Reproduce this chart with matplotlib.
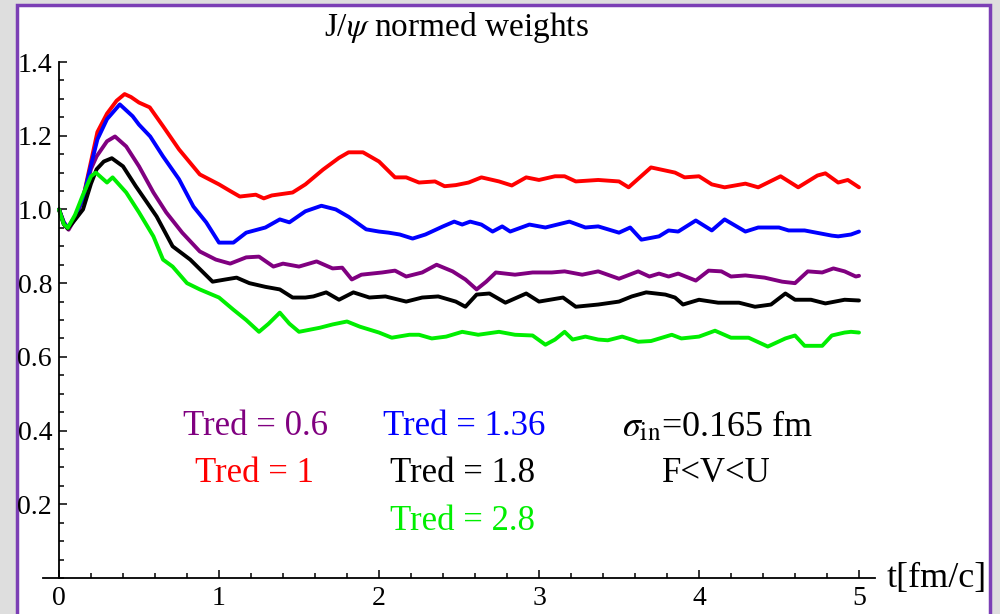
import matplotlib
matplotlib.use("Agg")
import matplotlib.pyplot as plt
from matplotlib.patches import Rectangle
from matplotlib.ticker import MultipleLocator, FixedLocator

plt.rcParams['font.family'] = ['Liberation Serif', 'DejaVu Serif']
plt.rcParams['mathtext.fontset'] = 'stix'

# values (t in fm/c, normed weight)
t_red = [0, 0.03, 0.055, 0.1, 0.15, 0.2, 0.24, 0.3, 0.36, 0.41, 0.45, 0.5, 0.567, 0.65, 0.75, 0.88,
         1.0, 1.07, 1.13, 1.23, 1.28, 1.33, 1.46, 1.54, 1.65, 1.75, 1.81, 1.9, 2.0, 2.1, 2.17, 2.25,
         2.35, 2.41, 2.48, 2.56, 2.64, 2.75, 2.83, 2.92, 3.0, 3.1, 3.16, 3.23, 3.37, 3.5, 3.56, 3.7,
         3.85, 3.91, 4.0, 4.08, 4.16, 4.29, 4.37, 4.51, 4.62, 4.74, 4.79, 4.87, 4.93, 5.0]
w_red = [1.0, 0.965, 0.95, 0.98, 1.03, 1.13, 1.21, 1.26, 1.295, 1.313, 1.305, 1.29, 1.277, 1.226, 1.163, 1.095,
         1.068, 1.05, 1.035, 1.04, 1.03, 1.038, 1.046, 1.068, 1.108, 1.14, 1.155, 1.155, 1.13, 1.087, 1.087, 1.073,
         1.076, 1.063, 1.066, 1.073, 1.087, 1.076, 1.065, 1.087, 1.08, 1.09, 1.09, 1.076, 1.08, 1.076, 1.06, 1.114,
         1.10, 1.087, 1.09, 1.068, 1.06, 1.07, 1.06, 1.09, 1.06, 1.092, 1.098, 1.073, 1.08, 1.06]

t_blue = [0, 0.03, 0.055, 0.1, 0.15, 0.2, 0.24, 0.3, 0.38, 0.46, 0.5, 0.57, 0.65, 0.75, 0.84, 0.92,
          1.0, 1.09, 1.17, 1.29, 1.38, 1.44, 1.54, 1.64, 1.73, 1.81, 1.92, 2.0, 2.06, 2.13, 2.21, 2.29,
          2.40, 2.47, 2.52, 2.57, 2.64, 2.71, 2.77, 2.82, 2.94, 3.04, 3.19, 3.29, 3.37, 3.50, 3.57, 3.64,
          3.75, 3.81, 3.87, 3.98, 4.08, 4.16, 4.29, 4.37, 4.50, 4.56, 4.66, 4.83, 4.87, 4.95, 5.0]
w_blue = [1.0, 0.965, 0.95, 0.98, 1.03, 1.12, 1.19, 1.245, 1.285, 1.253, 1.23, 1.198, 1.144, 1.082, 1.008, 0.965,
          0.91, 0.91, 0.937, 0.951, 0.973, 0.965, 0.995, 1.01, 1.0, 0.98, 0.946, 0.94, 0.937, 0.932, 0.921, 0.932,
          0.954, 0.967, 0.959, 0.967, 0.959, 0.94, 0.954, 0.94, 0.959, 0.951, 0.967, 0.951, 0.954, 0.937, 0.951, 0.918,
          0.927, 0.943, 0.94, 0.97, 0.943, 0.973, 0.94, 0.951, 0.951, 0.943, 0.943, 0.929, 0.927, 0.932, 0.94]

t_purple = [0, 0.03, 0.06, 0.1, 0.15, 0.2, 0.235, 0.3, 0.35, 0.42, 0.5, 0.59, 0.67, 0.77, 0.88, 0.98,
            1.07, 1.17, 1.25, 1.34, 1.40, 1.50, 1.61, 1.71, 1.77, 1.83, 1.89, 2.02, 2.10, 2.17, 2.27, 2.36,
            2.46, 2.54, 2.61, 2.67, 2.73, 2.85, 2.96, 3.08, 3.16, 3.27, 3.37, 3.50, 3.62, 3.69, 3.75, 3.81,
            3.87, 3.98, 4.06, 4.14, 4.20, 4.29, 4.41, 4.52, 4.60, 4.68, 4.77, 4.84, 4.91, 4.98, 5.0]
w_purple = [1.0, 0.96, 0.945, 0.975, 1.03, 1.11, 1.144, 1.185, 1.198, 1.171, 1.117, 1.046, 0.992, 0.937, 0.886, 0.864,
            0.853, 0.87, 0.872, 0.845, 0.853, 0.845, 0.859, 0.84, 0.842, 0.81, 0.823, 0.829, 0.834, 0.818, 0.829, 0.85,
            0.832, 0.81, 0.783, 0.804, 0.829, 0.823, 0.829, 0.829, 0.832, 0.823, 0.832, 0.812, 0.832, 0.818, 0.826, 0.818,
            0.826, 0.807, 0.834, 0.832, 0.818, 0.821, 0.815, 0.804, 0.80, 0.832, 0.829, 0.84, 0.832, 0.818, 0.82]

t_black = [0, 0.03, 0.055, 0.1, 0.15, 0.2, 0.235, 0.28, 0.33, 0.40, 0.48, 0.55, 0.61, 0.71, 0.82, 0.96,
           1.04, 1.11, 1.19, 1.29, 1.38, 1.46, 1.54, 1.59, 1.67, 1.75, 1.84, 1.94, 2.04, 2.17, 2.27, 2.37,
           2.48, 2.54, 2.61, 2.69, 2.79, 2.92, 3.0, 3.15, 3.23, 3.37, 3.50, 3.58, 3.67, 3.79, 3.85, 3.90,
           4.0, 4.12, 4.25, 4.35, 4.45, 4.54, 4.60, 4.70, 4.79, 4.91, 5.0]
w_black = [1.0, 0.96, 0.948, 0.972, 1.0, 1.07, 1.109, 1.13, 1.139, 1.117, 1.063, 1.019, 0.981, 0.90, 0.864, 0.804,
           0.81, 0.815, 0.80, 0.79, 0.783, 0.761, 0.761, 0.764, 0.775, 0.755, 0.775, 0.761, 0.764, 0.75, 0.761, 0.764,
           0.75, 0.736, 0.769, 0.772, 0.747, 0.772, 0.75, 0.761, 0.736, 0.742, 0.75, 0.764, 0.775, 0.769, 0.761, 0.742,
           0.755, 0.747, 0.747, 0.736, 0.742, 0.772, 0.755, 0.755, 0.745, 0.755, 0.753]

t_green = [0, 0.03, 0.055, 0.1, 0.15, 0.2, 0.23, 0.30, 0.335, 0.42, 0.50, 0.59, 0.65, 0.71, 0.80, 0.88,
           1.0, 1.09, 1.17, 1.25, 1.31, 1.38, 1.44, 1.50, 1.63, 1.71, 1.80, 1.88, 1.94, 2.0, 2.08, 2.19,
           2.25, 2.33, 2.42, 2.52, 2.62, 2.75, 2.85, 2.96, 3.04, 3.10, 3.16, 3.21, 3.29, 3.37, 3.43, 3.52,
           3.62, 3.70, 3.83, 3.89, 4.0, 4.10, 4.20, 4.31, 4.43, 4.54, 4.60, 4.66, 4.77, 4.83, 4.91, 4.95, 5.0]
w_green = [1.0, 0.96, 0.95, 0.985, 1.04, 1.09, 1.10, 1.073, 1.087, 1.046, 0.992, 0.927, 0.864, 0.845, 0.80, 0.783,
           0.761, 0.728, 0.70, 0.668, 0.69, 0.72, 0.69, 0.668, 0.679, 0.688, 0.696, 0.682, 0.674, 0.666, 0.652, 0.66,
           0.66, 0.65, 0.655, 0.668, 0.66, 0.668, 0.66, 0.658, 0.633, 0.647, 0.668, 0.647, 0.655, 0.647, 0.645, 0.655,
           0.641, 0.643, 0.66, 0.65, 0.655, 0.671, 0.652, 0.652, 0.628, 0.65, 0.658, 0.63, 0.63, 0.658, 0.666, 0.668, 0.666]

series = [
    (t_purple, w_purple, '#800080'),
    (t_red, w_red, '#ff0000'),
    (t_blue, w_blue, '#0000ff'),
    (t_black, w_black, '#000000'),
    (t_green, w_green, '#00ee00'),
]

x_ticks = [0, 1, 2, 3, 4, 5]
x_tick_labels = ['0', '1', '2', '3', '4', '5']
y_ticks = [0.2, 0.4, 0.6, 0.8, 1.0, 1.2, 1.4]
y_tick_labels = ['0.2', '0.4', '0.6', '0.8', '1.0', '1.2', '1.4']

fig = plt.figure(figsize=(10, 6.14), dpi=100, facecolor='#dedede')

# white panel with purple frame (behind the axes)
fig.patches.append(Rectangle((0.017, -0.05), 0.973, 1.042, transform=fig.transFigure,
                             facecolor='white', edgecolor='#7b3fb5', linewidth=2.5, zorder=-10))

ax = fig.add_axes([0.043, 0.0586, 0.832, 0.8404])
ax.set_zorder(5)
ax.set_facecolor('none')

for t, w, col in series:
    ax.plot(t, w, color=col, linewidth=2.8, solid_joinstyle='round', solid_capstyle='round')

ax.set_xlim(-0.1, 5.1)
ax.set_ylim(0, 1.4)

ax.spines['top'].set_visible(False)
ax.spines['right'].set_visible(False)
ax.spines['left'].set_position(('data', 0))
ax.spines['left'].set_bounds(0, 1.4)
ax.spines['left'].set_linewidth(1.3)
ax.spines['bottom'].set_linewidth(1.3)

ax.xaxis.set_major_locator(FixedLocator(x_ticks))
ax.xaxis.set_minor_locator(MultipleLocator(0.2))
ax.yaxis.set_major_locator(FixedLocator(y_ticks))
ax.yaxis.set_minor_locator(MultipleLocator(0.05))
ax.set_xticklabels(x_tick_labels, fontfamily='Liberation Serif', fontsize=20)
ax.set_yticklabels(y_tick_labels, fontfamily='Liberation Serif', fontsize=20)
ax.tick_params(which='both', direction='in', width=1.1)
ax.tick_params(which='major', length=6)
ax.tick_params(which='minor', length=3.5)
ax.tick_params(axis='x', pad=6)
ax.tick_params(axis='y', pad=5)

# title and axis label
fig.text(0.456, 0.955, r'J/$\psi$ normed weights', ha='center', va='center', fontsize=24)
fig.text(0.887, 0.058, 't[fm/c]', ha='left', va='center', fontsize=26)

# inline legend and notes
ax.text(1.23, 0.411, 'Tred = 0.6', color='#800080', ha='center', va='center', fontsize=25)
ax.text(1.22, 0.283, 'Tred = 1', color='#ff0000', ha='center', va='center', fontsize=25)
ax.text(2.53, 0.411, 'Tred = 1.36', color='#0000ff', ha='center', va='center', fontsize=25)
ax.text(2.52, 0.283, 'Tred = 1.8', color='#000000', ha='center', va='center', fontsize=25)
ax.text(2.52, 0.153, 'Tred = 2.8', color='#00ee00', ha='center', va='center', fontsize=25)
ax.text(4.12, 0.411, r'$\sigma_{\rm in}$=0.165 fm', color='black', ha='center', va='center', fontsize=26)
ax.text(4.11, 0.283, 'F<V<U', color='black', ha='center', va='center', fontsize=25)

fig.savefig('out.png', dpi=100, facecolor=fig.get_facecolor())
plt.close(fig)
